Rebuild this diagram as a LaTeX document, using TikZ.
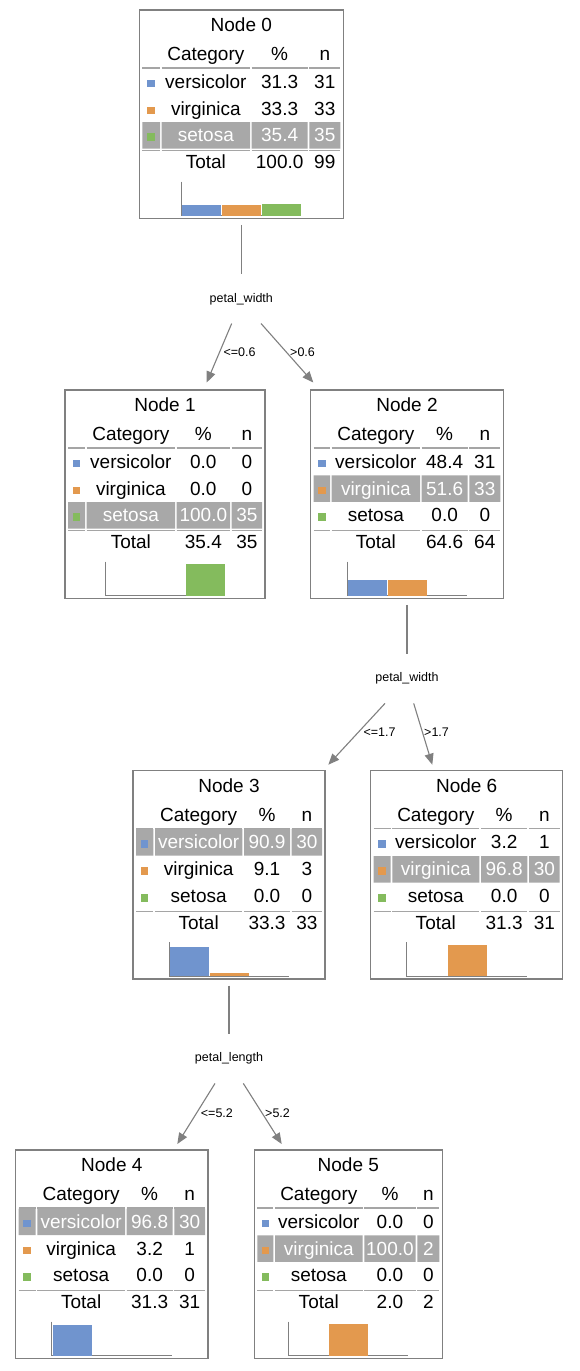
\documentclass[tikz,border=0pt]{standalone}
\usepackage{fontspec}
\setmainfont{Liberation Sans}
\usetikzlibrary{arrows.meta}
\definecolor{cblue}{RGB}{112,148,206}
\definecolor{corange}{RGB}{227,153,78}
\definecolor{cgreen}{RGB}{132,187,93}
\definecolor{hlgray}{RGB}{168,168,168}
\definecolor{sepgray}{RGB}{165,165,165}
\definecolor{bordergray}{RGB}{128,128,128}
\definecolor{edgegray}{RGB}{128,128,128}
\tikzset{
 nodebox/.style={draw=bordergray, line width=1.2pt, fill=white, inner sep=0pt, outer sep=0pt},
 tabtext/.style={inner sep=0pt, anchor=base, font=\fontsize{19}{21}\selectfont},
 seprule/.style={draw=sepgray, line width=1.2pt},
 axisline/.style={draw=bordergray, line width=1pt},
 decision/.style={inner sep=0pt, minimum height=49pt, font=\fontsize{12.5}{14}\selectfont},
 edgelabel/.style={inner sep=0pt, anchor=west, font=\fontsize{12.5}{14}\selectfont},
 connector/.style={draw=edgegray, line width=1.1pt},
 arrowconn/.style={connector, -{Triangle[length=11pt,width=9pt]}},
}
% #1 name, #2 left, #3 top, #4 right, #5 col2 start, #6 col3 start, #7 col4 start, #8 highlighted row, #9 title
\newcommand\tnode[9]{%
 \def\zzN{#1}\def\zzT{#3}\def\zzHL{#8}%
 \def\zzBa{#5}\def\zzBb{#6}\def\zzBc{#7}%
 \pgfmathsetmacro\zzW{#4-#2}%
 \pgfmathsetmacro\zzA{#2+3}%
 \pgfmathsetmacro\zzB{#5-1.7}%
 \pgfmathsetmacro\zzC{#6-1.7}%
 \pgfmathsetmacro\zzD{#7-1.7}%
 \pgfmathsetmacro\zzE{#4-3}%
 \pgfmathsetmacro\zzMa{(\zzA+\zzB)/2}%
 \pgfmathsetmacro\zzMb{(#5+\zzC)/2}%
 \pgfmathsetmacro\zzMc{(#6+\zzD)/2}%
 \pgfmathsetmacro\zzMd{(#7+\zzE)/2}%
 \pgfmathsetmacro\zzMid{(#2+#4)/2}%
 \node[nodebox, minimum width=\zzW pt, minimum height=208.3pt, anchor=north west] (#1) at (#2,#3) {};
 \node[tabtext] (#1-title) at ({\zzMid},{\zzT+21.7}) {#9};
 \node[tabtext] (#1-hcat) at ({\zzMb},{\zzT+50.7}) {Category};
 \node[tabtext] (#1-hpct) at ({\zzMc},{\zzT+50.7}) {\%};
 \node[tabtext] (#1-hn) at ({\zzMd},{\zzT+50.7}) {n};
 \path[seprule] ({\zzA},{\zzT+58}) -- ({\zzB},{\zzT+58})
   ({\zzBa},{\zzT+58}) -- ({\zzC},{\zzT+58})
   ({\zzBb},{\zzT+58}) -- ({\zzD},{\zzT+58})
   ({\zzBc},{\zzT+58}) -- ({\zzE},{\zzT+58})
   ({\zzA},{\zzT+140.5}) -- ({\zzB},{\zzT+140.5})
   ({\zzBa},{\zzT+140.5}) -- ({\zzC},{\zzT+140.5})
   ({\zzBb},{\zzT+140.5}) -- ({\zzD},{\zzT+140.5})
   ({\zzBc},{\zzT+140.5}) -- ({\zzE},{\zzT+140.5});
 \path[axisline] ({\zzMid-60},{\zzT+171.7}) -- ({\zzMid-60},{\zzT+205.5}) -- ({\zzMid+60},{\zzT+205.5});
}
% #1 row, #2 label, #3 pct, #4 n, #5 colour
\newcommand\trow[5]{%
 \pgfmathsetmacro\zzRt{\zzT+58.5+26.8*(#1-1)}%
 \pgfmathsetmacro\zzRb{\zzRt+26.5}%
 \pgfmathsetmacro\zzBase{\zzRt+19.7}%
 \ifnum#1=\zzHL
  \fill[hlgray] ({\zzA},{\zzRt}) rectangle ({\zzB},{\zzRb})
   ({\zzBa},{\zzRt}) rectangle ({\zzC},{\zzRb})
   ({\zzBb},{\zzRt}) rectangle ({\zzD},{\zzRb})
   ({\zzBc},{\zzRt}) rectangle ({\zzE},{\zzRb});
  \def\zzTC{white}%
 \else
  \def\zzTC{black}%
 \fi
 \fill[#5] ({\zzMa-3.7},{\zzBase-8.5}) rectangle ({\zzMa+3.7},{\zzBase-1});
 \node[tabtext, text=\zzTC] (\zzN-r#1-lab) at ({\zzMb},{\zzBase}) {#2};
 \node[tabtext, text=\zzTC] (\zzN-r#1-pct) at ({\zzMc},{\zzBase}) {#3};
 \node[tabtext, text=\zzTC] (\zzN-r#1-n) at ({\zzMd},{\zzBase}) {#4};
}
\newcommand\ttotal[2]{%
 \node[tabtext] (\zzN-tot) at ({\zzMb},{\zzT+158.3}) {Total};
 \node[tabtext] (\zzN-totpct) at ({\zzMc},{\zzT+158.3}) {#1};
 \node[tabtext] (\zzN-totn) at ({\zzMd},{\zzT+158.3}) {#2};
}
% #1 bar index, #2 pct, #3 colour
\newcommand\tbar[3]{%
 \fill[#3] ({\zzMid-60+1+40*(#1-1)},{\zzT+205.5-0.32*#2}) rectangle ({\zzMid-60+40*#1},{\zzT+205.5});
}
\begin{document}
\begin{tikzpicture}[x=1pt,y=-1pt]
\fill[white] (0,0) rectangle (579,1371);
\useasboundingbox (0,0) rectangle (579,1371);

% Node 0
\tnode{n0}{139.3}{10}{343.3}{161.7}{251.7}{309.3}{3}{Node 0}
\trow{1}{versicolor}{31.3}{31}{cblue}
\trow{2}{virginica}{33.3}{33}{corange}
\trow{3}{setosa}{35.4}{35}{cgreen}
\ttotal{100.0}{99}
\tbar{1}{31.3}{cblue}\tbar{2}{33.3}{corange}\tbar{3}{35.4}{cgreen}

% Node 1
\tnode{n1}{65}{390}{265}{86.7}{176.7}{231.7}{3}{Node 1}
\trow{1}{versicolor}{0.0}{0}{cblue}
\trow{2}{virginica}{0.0}{0}{corange}
\trow{3}{setosa}{100.0}{35}{cgreen}
\ttotal{35.4}{35}
\tbar{3}{100}{cgreen}

% Node 2
\tnode{n2}{310.7}{390}{503.3}{331.7}{421.7}{469.3}{2}{Node 2}
\trow{1}{versicolor}{48.4}{31}{cblue}
\trow{2}{virginica}{51.6}{33}{corange}
\trow{3}{setosa}{0.0}{0}{cgreen}
\ttotal{64.6}{64}
\tbar{1}{48.4}{cblue}\tbar{2}{48.4}{corange}

% Node 3
\tnode{n3}{133}{770.7}{325}{155}{244}{291.7}{1}{Node 3}
\trow{1}{versicolor}{90.9}{30}{cblue}
\trow{2}{virginica}{9.1}{3}{corange}
\trow{3}{setosa}{0.0}{0}{cgreen}
\ttotal{33.3}{33}
\tbar{1}{90.9}{cblue}\tbar{2}{9.1}{corange}

% Node 6
\tnode{n6}{370.7}{770.7}{562.7}{392.3}{481}{529}{2}{Node 6}
\trow{1}{versicolor}{3.2}{1}{cblue}
\trow{2}{virginica}{96.8}{30}{corange}
\trow{3}{setosa}{0.0}{0}{cgreen}
\ttotal{31.3}{31}
\tbar{2}{96.8}{corange}

% Node 4
\tnode{n4}{15.7}{1150}{208}{37.3}{126.7}{174.3}{1}{Node 4}
\trow{1}{versicolor}{96.8}{30}{cblue}
\trow{2}{virginica}{3.2}{1}{corange}
\trow{3}{setosa}{0.0}{0}{cgreen}
\ttotal{31.3}{31}
\tbar{1}{96.8}{cblue}

% Node 5
\tnode{n5}{254.3}{1150}{442.3}{275}{364.3}{417.3}{2}{Node 5}
\trow{1}{versicolor}{0.0}{0}{cblue}
\trow{2}{virginica}{100.0}{2}{corange}
\trow{3}{setosa}{0.0}{0}{cgreen}
\ttotal{2.0}{2}
\tbar{2}{100}{corange}

% decisions
\node[decision] (d0) at (241.3,298.8) {petal\_width};
\node[decision] (d1) at (407,678.7) {petal\_width};
\node[decision] (d2) at (229,1058.7) {petal\_length};

\draw[connector] ([yshift=-6.5pt]n0.south) -- (d0.north);
\draw[connector] ([yshift=-6.5pt]n2.south) -- (d1.north);
\draw[connector] ([yshift=-6.5pt]n3.south) -- (d2.north);

\draw[arrowconn] ([xshift=-9.6pt]d0.south) -- ([xshift=41.7pt,yshift=7.5pt]n1.north);
\draw[arrowconn] ([xshift=19.7pt]d0.south) -- ([xshift=-93.7pt,yshift=7.5pt]n2.north);
\draw[arrowconn] ([xshift=-22pt]d1.south) -- ([xshift=99.3pt,yshift=6pt]n3.north);
\draw[arrowconn] ([xshift=6.7pt]d1.south) -- ([xshift=-34.4pt,yshift=6pt]n6.north);
\draw[arrowconn] ([xshift=-14pt]d2.south) -- ([xshift=65.45pt,yshift=6pt]n4.north);
\draw[arrowconn] ([xshift=14.3pt]d2.south) -- ([xshift=-66.6pt,yshift=6pt]n5.north);

\node[edgelabel] (l1) at (223.3,352.3) {<=0.6};
\node[edgelabel] (l2) at (290,352.3) {>0.6};
\node[edgelabel] (l3) at (363.3,732) {<=1.7};
\node[edgelabel] (l4) at (424,732) {>1.7};
\node[edgelabel] (l5) at (200.7,1112.7) {<=5.2};
\node[edgelabel] (l6) at (265,1112.7) {>5.2};
\end{tikzpicture}
\end{document}
